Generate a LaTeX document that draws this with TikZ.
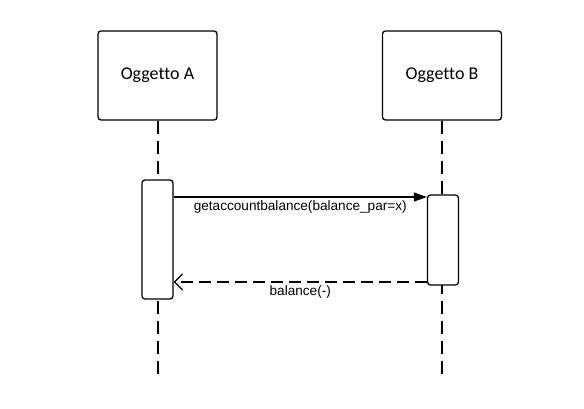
\documentclass[tikz,border=0pt]{standalone}
\usepackage{fontspec}
\setmainfont{Liberation Sans}
\newfontfamily\boxfont[Ligatures=NoCommon]{Carlito}
\usetikzlibrary{arrows.meta,positioning}
\tikzset{
  % object box at the top of a lifeline
  objbox/.style={rectangle, rounded corners=3pt, draw, line width=1.3pt, fill=white,
                 minimum width=119pt, minimum height=89pt, font=\boxfont\fontsize{18}{21}\selectfont},
  % activation bar
  actbox/.style={rectangle, rounded corners=3pt, draw, line width=1.3pt, fill=white,
                 minimum width=31pt, minimum height=#1, inner sep=0pt},
  actbox/.default={119pt},
  % lifeline
  lifeline/.style={line width=1.3pt, dash pattern=on 13pt off 7pt},
  % synchronous call
  callarrow/.style={-{Triangle[length=13pt,width=9pt]}, line width=1.3pt},
  % return message
  retarrow/.style={-{Straight Barb[length=8pt,width=16pt]}, line width=1.3pt, dash pattern=on 12pt off 6pt},
  % message label
  msglabel/.style={font=\fontsize{13.6}{16}\selectfont, inner sep=1pt},
}
\begin{document}
\begin{tikzpicture}[x=1pt,y=-1pt]
  \useasboundingbox (0,0) rectangle (584,409);

  % objects
  \node[objbox] (A) at (157.5,75.5) {Oggetto A};
  \node[objbox] (B) at (442,75.5) {Oggetto B};

  % lifelines
  \coordinate (Aend) at (158,376);
  \coordinate (Bend) at (442,376);
  \draw[lifeline] (A.south -| Aend) -- (Aend);
  \draw[lifeline] (B.south -| Bend) -- (Bend);

  % activations
  \node[actbox=119pt] (actA) at (157.5,239.5) {};
  \node[actbox=90pt] (actB) at (443,240) {};

  % messages
  \draw[callarrow] (actA.east |- 0,197) -- (actB.west |- 0,197)
    node[msglabel, midway, below=2pt] (call) {getaccountbalance(balance\_par=x)};
  \draw[retarrow] (actB.west |- 0,282) -- (actA.east |- 0,282)
    node[msglabel, midway, below=2pt] (ret) {balance(-)};
\end{tikzpicture}
\end{document}
